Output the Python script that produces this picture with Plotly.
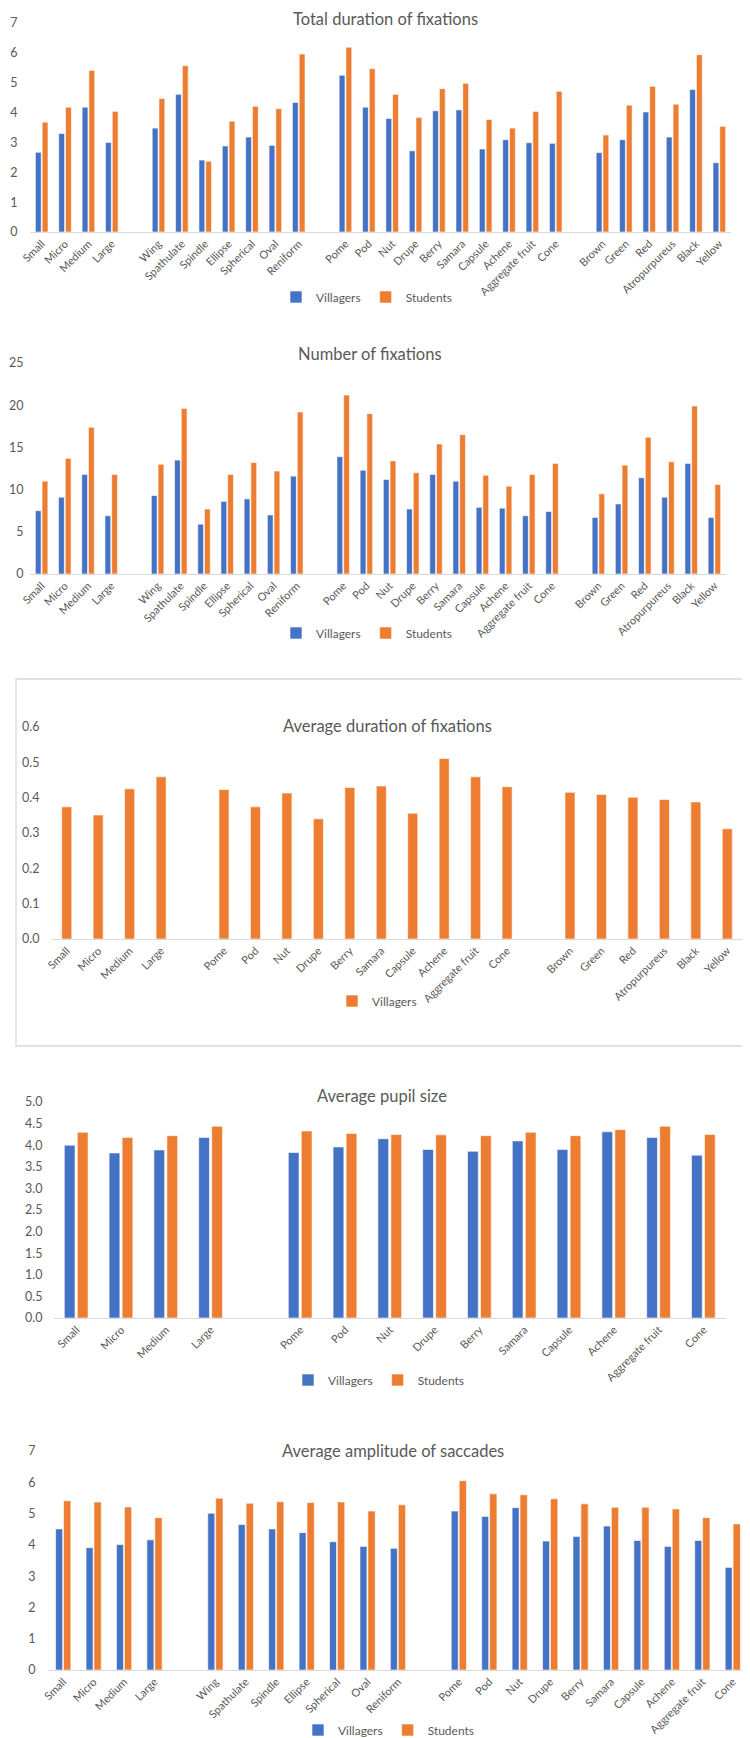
import plotly.graph_objects as go

W, H = 750, 1738

# ---------------- categories ----------------
SIZE = ["Small", "Micro", "Medium", "Large"]
SHAPE = ["Wing", "Spathulate", "Spindle", "Ellipse", "Spherical", "Oval", "Reniform"]
FRUIT = ["Pome", "Pod", "Nut", "Drupe", "Berry", "Samara", "Capsule", "Achene",
         "Aggregate fruit", "Cone"]
COLOR = ["Brown", "Green", "Red", "Atropurpureus", "Black", "Yellow"]

# ---------------- data ----------------
# 1. Total duration of fixations (SIZE, SHAPE, FRUIT, COLOR)
total_dur_villagers = [2.67, 3.30, 4.18, 3.00,
                       3.48, 4.61, 2.41, 2.88, 3.18, 2.90, 4.34,
                       5.25, 4.18, 3.80, 2.72, 4.06, 4.09, 2.78, 3.09, 2.99, 2.97,
                       2.66, 3.09, 4.02, 3.18, 4.77, 2.32]
total_dur_students = [3.68, 4.18, 5.41, 4.04,
                      4.47, 5.57, 2.37, 3.71, 4.21, 4.13, 5.96,
                      6.19, 5.47, 4.61, 3.84, 4.80, 4.98, 3.77, 3.48, 4.04, 4.71,
                      3.25, 4.25, 4.88, 4.28, 5.94, 3.54]

# 2. Number of fixations (SIZE, SHAPE, FRUIT, COLOR)
num_fix_villagers = [7.5, 9.1, 11.8, 6.9,
                     9.3, 13.5, 5.9, 8.6, 8.9, 7.0, 11.6,
                     13.9, 12.3, 11.2, 7.7, 11.8, 11.0, 7.9, 7.8, 6.9, 7.4,
                     6.7, 8.3, 11.4, 9.1, 13.1, 6.7]
num_fix_students = [11.0, 13.7, 17.4, 11.8,
                    13.0, 19.6, 7.7, 11.8, 13.2, 12.2, 19.2,
                    21.2, 19.0, 13.4, 12.0, 15.4, 16.5, 11.7, 10.4, 11.8, 13.1,
                    9.5, 12.9, 16.2, 13.3, 19.9, 10.6]

# 3. Average duration of fixations (SIZE, FRUIT, COLOR)
avg_dur_villagers = [0.374, 0.351, 0.425, 0.459,
                     0.423, 0.374, 0.413, 0.340, 0.429, 0.433, 0.356, 0.511, 0.459, 0.431,
                     0.415, 0.409, 0.401, 0.395, 0.388, 0.312]

# 4. Average pupil size (SIZE, FRUIT)
pupil_villagers = [4.00, 3.82, 3.89, 4.18,
                   3.83, 3.96, 4.15, 3.90, 3.86, 4.10, 3.90, 4.31, 4.18, 3.77]
pupil_students = [4.30, 4.18, 4.22, 4.44,
                  4.33, 4.27, 4.25, 4.24, 4.22, 4.30, 4.22, 4.36, 4.44, 4.25]

# 5. Average amplitude of saccades (SIZE, SHAPE, FRUIT)
sacc_villagers = [4.51, 3.91, 4.01, 4.16,
                  5.01, 4.65, 4.51, 4.39, 4.10, 3.95, 3.89,
                  5.08, 4.91, 5.19, 4.12, 4.27, 4.60, 4.14, 3.95, 4.14, 3.28]
sacc_students = [5.41, 5.37, 5.21, 4.87,
                 5.49, 5.33, 5.38, 5.35, 5.37, 5.08, 5.28,
                 6.05, 5.63, 5.60, 5.47, 5.31, 5.20, 5.20, 5.15, 4.87, 4.67]

# ---------------- style ----------------
BLUE = "#4472C4"
ORANGE = "#ED7D31"
TXT = "#595959"
AXL = "#D9D9D9"
FONT = "Lato"


def with_gaps(groups, values):
    xs, ys = [], []
    i = 0
    for gi, g in enumerate(groups):
        if gi > 0:
            xs.append(" " * gi)
            ys.append(None)
        for c in g:
            xs.append(c)
            ys.append(values[i])
            i += 1
    return xs, ys


def py(px):
    return 1 - px / H


fig = go.Figure()
layout = dict(width=W, height=H, margin=dict(l=0, r=0, t=0, b=0, autoexpand=False),
              paper_bgcolor="white", plot_bgcolor="white",
              font=dict(family=FONT, color=TXT), showlegend=True,
              barmode="overlay", annotations=[], shapes=[])

charts = [
    dict(title="Total duration of fixations", groups=[SIZE, SHAPE, FRUIT, COLOR],
         series=[("Villagers", total_dur_villagers, BLUE), ("Students", total_dur_students, ORANGE)],
         yr=[0, 7], dt=1, fmt="d", xpx=(22, 723), ypx=(15, 224), tl=9,
         tpos=(377, 11), lpos=(359, 289), bars=[(-0.27, 0.25), (0.02, 0.25)]),
    dict(title="Number of fixations", groups=[SIZE, SHAPE, FRUIT, COLOR],
         series=[("Villagers", num_fix_villagers, BLUE), ("Students", num_fix_students, ORANGE)],
         yr=[0, 25], dt=5, fmt="d", xpx=(22, 718), ypx=(355, 566), tl=3,
         tpos=(362, 346), lpos=(359, 625), bars=[(-0.27, 0.25), (0.02, 0.25)]),
    dict(title="Average duration of fixations", groups=[SIZE, FRUIT, COLOR],
         series=[("Villagers", avg_dur_villagers, ORANGE)],
         yr=[0, 0.6], dt=0.1, fmt=".1f", xpx=(43, 735), ypx=(719, 931), tl=8,
         tpos=(379, 718), lpos=(369, 993), bars=[(-0.16, 0.32)]),
    dict(title="Average pupil size", groups=[SIZE, FRUIT],
         series=[("Villagers", pupil_villagers, BLUE), ("Students", pupil_students, ORANGE)],
         yr=[0, 5], dt=0.5, fmt=".1f", xpx=(46, 718), ypx=(1094, 1310), tl=8,
         tpos=(374, 1088), lpos=(371, 1372), bars=[(-0.27, 0.24), (0.02, 0.24)]),
    dict(title="Average amplitude of saccades", groups=[SIZE, SHAPE, FRUIT],
         series=[("Villagers", sacc_villagers, BLUE), ("Students", sacc_students, ORANGE)],
         yr=[0, 7], dt=1, fmt="d", xpx=(40, 740), ypx=(1443, 1662), tl=9,
         tpos=(385, 1443), lpos=(381, 1722), bars=[(-0.25, 0.23), (0.01, 0.24)]),
]

for k, c in enumerate(charts, start=1):
    sfx = "" if k == 1 else str(k)
    lg = "legend" if k == 1 else f"legend{k}"
    ncat = None
    for (name, vals, col), (off, wd) in zip(c["series"], c["bars"]):
        xs, ys = with_gaps(c["groups"], vals)
        ncat = len(xs)
        fig.add_trace(go.Bar(
            x=xs, y=ys, name=name, marker=dict(color=col, line=dict(color="white", width=0.6)),
            offset=off, width=wd, xaxis="x" + sfx, yaxis="y" + sfx, legend=lg,
            hoverinfo="x+y+name"))
    x0, x1 = c["xpx"]
    ytop, yzero = c["ypx"]
    layout["xaxis" + sfx] = dict(
        domain=[x0 / W, x1 / W], anchor="y" + sfx, type="category", automargin=False,
        categoryorder="array", categoryarray=xs, range=[-0.5, ncat - 0.5],
        showline=True, linecolor=AXL, linewidth=1.3, showgrid=False, zeroline=False,
        ticks="", tickangle=-45, tickfont=dict(family=FONT, size=11, color=TXT),
        fixedrange=True)
    layout["yaxis" + sfx] = dict(
        domain=[py(yzero), py(ytop)], anchor="x" + sfx, range=c["yr"], automargin=False,
        dtick=c["dt"], tick0=0, tickformat=c["fmt"], showgrid=False, zeroline=False,
        showline=False, ticks="outside", ticklen=c["tl"], tickcolor="rgba(0,0,0,0)",
        tickfont=dict(family=FONT, size=12.5, color=TXT), fixedrange=True)
    layout["annotations"].append(dict(
        text=c["title"], xref="paper", yref="paper", x=c["tpos"][0] / W, y=py(c["tpos"][1]),
        xanchor="center", yanchor="middle", showarrow=False,
        font=dict(family=FONT, size=16.5, color=TXT)))
    layout[lg] = dict(orientation="h", xanchor="center", yanchor="middle",
                      x=c["lpos"][0] / W, y=py(c["lpos"][1]),
                      font=dict(family=FONT, size=12, color=TXT),
                      itemwidth=30, bgcolor="rgba(0,0,0,0)")

layout["shapes"].append(dict(type="rect", xref="paper", yref="paper",
                             x0=8 / W, x1=748 / W, y0=py(1038), y1=py(671),
                             line=dict(color=AXL, width=1.3), fillcolor="rgba(0,0,0,0)"))

fig.update_layout(**layout)
fig.write_html("out.html")
